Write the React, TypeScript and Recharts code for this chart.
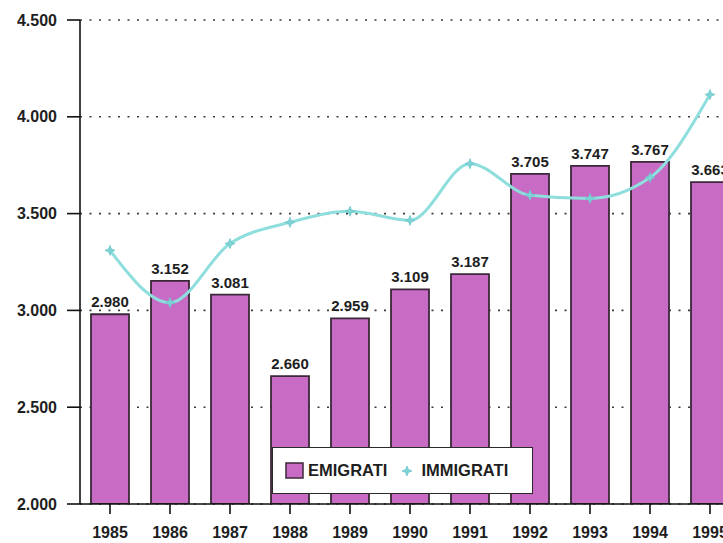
import React from "react"
import { ComposedChart, Bar, Line, XAxis, YAxis, CartesianGrid, LabelList, Legend } from "recharts"

const years = ["1985", "1986", "1987", "1988", "1989", "1990", "1991", "1992", "1993", "1994", "1995"]
const emigrati = [2980, 3152, 3081, 2660, 2959, 3109, 3187, 3705, 3747, 3767, 3663]
const immigrati = [3310, 3040, 3345, 3455, 3512, 3465, 3758, 3595, 3578, 3686, 4115]
const yTicks = [2000, 2500, 3000, 3500, 4000, 4500]

const data = years.map((year, i) => ({ year, emigrati: emigrati[i], immigrati: immigrati[i] }))

const BAR_FILL = "#c86bc4"
const BAR_STROKE = "#3a2838"
const LINE_COLOR = "#8ddedd"
const FONT = "'Liberation Sans', Arial, sans-serif"

// 2980 -> "2.980"
const itNum = (v: number) => {
  const s = String(Math.round(v))
  return s.replace(/\B(?=(\d{3})+(?!\d))/g, ".")
}

const StarDot = (props: any) => {
  const { cx, cy } = props
  if (cx == null || cy == null) return null
  const r = 5
  const s = 1.4
  const d = `M${cx},${cy - r} L${cx + s},${cy - s} L${cx + r},${cy} L${cx + s},${cy + s} L${cx},${cy + r} L${cx - s},${cy + s} L${cx - r},${cy} L${cx - s},${cy - s} Z`
  return <path d={d} fill="#7fd3d6" stroke="#6cc6cb" strokeWidth={0.8} />
}

const LegendBox = () => {
  return (
    <div
      style={{
        width: 261,
        height: 47,
        border: "1.5px solid #2a2a2a",
        background: "#fff",
        display: "flex",
        alignItems: "center",
        fontFamily: FONT,
        fontWeight: 700,
        fontSize: 16.5,
        color: "#1e1e1e",
        boxSizing: "border-box",
        paddingLeft: 12,
      }}
    >
      <svg width={19} height={17} style={{ marginRight: 4 }}>
        <rect x={1} y={1} width={17} height={15} fill={BAR_FILL} stroke={BAR_STROKE} strokeWidth={1.5} />
      </svg>
      <span>EMIGRATI</span>
      <svg width={14} height={14} style={{ marginLeft: 13, marginRight: 7 }}>
        <StarDot cx={7} cy={7} />
      </svg>
      <span>IMMIGRATI</span>
    </div>
  )
}

export default function App() {
  return (
    <div
      style={{
        position: "fixed",
        left: 0,
        top: 0,
        width: 723,
        height: 543,
        overflow: "hidden",
        background: "#fff",
      }}
    >
      <ComposedChart
        width={760}
        height={543}
        data={data}
        margin={{ top: 20, right: 20, bottom: 9, left: 10 }}
        barCategoryGap={11}
      >
        <CartesianGrid
          vertical={false}
          stroke="#3c3c3c"
          strokeWidth={1.6}
          strokeDasharray="2 7.5"
        />
        <XAxis
          dataKey="year"
          height={30}
          axisLine={{ stroke: "#111", strokeWidth: 1.6 }}
          tickLine={{ stroke: "#111", strokeWidth: 1.6 }}
          tickSize={10}
          tickMargin={13}
          tick={{ fill: "#1e1e1e", fontSize: 16, fontWeight: 700, fontFamily: FONT }}
        />
        <YAxis
          width={70}
          domain={[2000, 4500]}
          ticks={yTicks}
          allowDataOverflow
          tickFormatter={itNum}
          axisLine={{ stroke: "#111", strokeWidth: 1.6 }}
          tickLine={{ stroke: "#111", strokeWidth: 1.6 }}
          tickSize={13}
          tickMargin={10}
          tick={{ fill: "#1e1e1e", fontSize: 16, fontWeight: 700, fontFamily: FONT }}
        />
        <Bar
          dataKey="emigrati"
          fill={BAR_FILL}
          stroke={BAR_STROKE}
          strokeWidth={1.8}
          isAnimationActive={false}
        >
          <LabelList
            dataKey="emigrati"
            position="top"
            offset={7}
            formatter={(v: any) => itNum(Number(v))}
            style={{ fill: "#1e1e1e", fontSize: 15, fontWeight: 700, fontFamily: FONT }}
          />
        </Bar>
        <Line
          type="monotone"
          dataKey="immigrati"
          stroke={LINE_COLOR}
          strokeWidth={3}
          dot={<StarDot />}
          activeDot={false}
          isAnimationActive={false}
        />
        <Legend
          layout="horizontal"
          verticalAlign="middle"
          content={<LegendBox />}
          wrapperStyle={{ position: "absolute", left: 272, top: 447, width: 261, height: 47 }}
        />
      </ComposedChart>
    </div>
  )
}
